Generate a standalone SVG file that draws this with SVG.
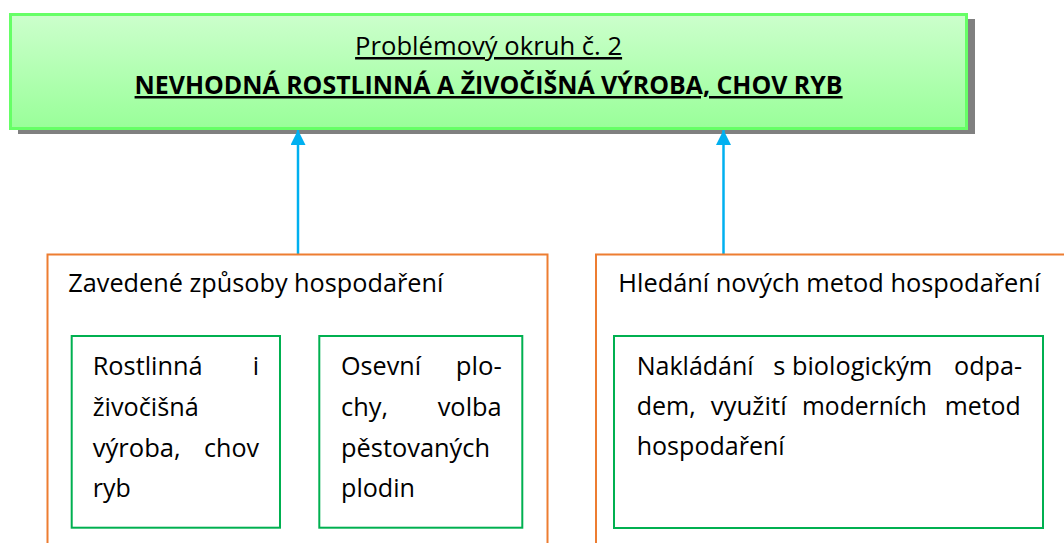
<svg xmlns="http://www.w3.org/2000/svg" width="1064" height="543" viewBox="0 0 1064 543">
<style>
.t{font-family:"Open Sans","Liberation Sans",sans-serif;font-size:25px;fill:#000}
.u{text-decoration:underline}
.b{font-weight:bold}
.orange{fill:#fff;stroke:#ed7d31;stroke-width:2}
.green{fill:#fff;stroke:#00b050;stroke-width:2}
.conn{stroke:#00b0f0;stroke-width:2.5;fill:none}
</style>
<defs>
<linearGradient id="gg" x1="0" y1="0" x2="0" y2="1">
<stop offset="0" stop-color="#ccffcc"/>
<stop offset="1" stop-color="#99ff99"/>
</linearGradient>
<marker id="ah" viewBox="0 0 10 10" refX="10" refY="5" markerWidth="6" markerHeight="6" markerUnits="strokeWidth" orient="auto">
<path d="M0,0 L10,5 L0,10 z" fill="#00b0f0"/>
</marker>
</defs>
<g id="top">
<rect x="18" y="19" width="957" height="115" fill="#808080"/>
<rect x="10.5" y="14.5" width="956" height="114" fill="url(#gg)" stroke="#66ff66" stroke-width="3"/>
<text class="t u" x="488.6" y="55" text-anchor="middle" textLength="267" lengthAdjust="spacingAndGlyphs">Problémový okruh č. 2</text>
<text class="t u b" x="488.6" y="94" text-anchor="middle" textLength="708" lengthAdjust="spacingAndGlyphs">NEVHODNÁ ROSTLINNÁ A ŽIVOČIŠNÁ VÝROBA, CHOV RYB</text>
</g>
<g id="connectors">
<line class="conn" x1="298" y1="255" x2="298" y2="130" marker-end="url(#ah)"/>
<line class="conn" x1="723.5" y1="255" x2="723.5" y2="130" marker-end="url(#ah)"/>
</g>
<g id="left">
<rect class="orange" x="47.5" y="254.5" width="500" height="300"/>
<text class="t" x="68.3" y="292" textLength="375" lengthAdjust="spacingAndGlyphs">Zavedené způsoby hospodaření</text>
</g>
<g id="left-a">
<rect class="green" x="71.7" y="336" width="208.3" height="191.7"/>
<text class="t" x="92.7" y="375" textLength="110" lengthAdjust="spacingAndGlyphs">Rostlinná</text>
<text class="t" x="259" y="375" text-anchor="end">i</text>
<text class="t" x="92.7" y="416" textLength="106" lengthAdjust="spacingAndGlyphs">živočišná</text>
<text class="t" x="92.7" y="456.5" textLength="88" lengthAdjust="spacingAndGlyphs">výroba,</text>
<text class="t" x="259" y="456.5" text-anchor="end" textLength="55" lengthAdjust="spacingAndGlyphs">chov</text>
<text class="t" x="92.7" y="497" textLength="38" lengthAdjust="spacingAndGlyphs">ryb</text>
</g>
<g id="left-b">
<rect class="green" x="319.3" y="336" width="203" height="191.7"/>
<text class="t" x="341" y="375" textLength="80" lengthAdjust="spacingAndGlyphs">Osevní</text>
<text class="t" x="501.7" y="375" text-anchor="end" textLength="46" lengthAdjust="spacingAndGlyphs">plo-</text>
<text class="t" x="341" y="416" textLength="47" lengthAdjust="spacingAndGlyphs">chy,</text>
<text class="t" x="501.7" y="416" text-anchor="end" textLength="64" lengthAdjust="spacingAndGlyphs">volba</text>
<text class="t" x="341" y="456.5" textLength="149" lengthAdjust="spacingAndGlyphs">pěstovaných</text>
<text class="t" x="341" y="497" textLength="74" lengthAdjust="spacingAndGlyphs">plodin</text>
</g>
<g id="right">
<rect class="orange" x="596" y="254.5" width="500" height="300"/>
<text class="t" x="618.3" y="292" textLength="422" lengthAdjust="spacingAndGlyphs">Hledání nových metod hospodaření</text>
</g>
<g id="right-a">
<rect class="green" x="614" y="336" width="429" height="192"/>
<text class="t" x="636.7" y="375" textLength="117" lengthAdjust="spacingAndGlyphs">Nakládání</text>
<text class="t" x="773.3" y="375" textLength="159" lengthAdjust="spacingAndGlyphs">s biologickým</text>
<text class="t" x="1022" y="375" text-anchor="end" textLength="68" lengthAdjust="spacingAndGlyphs">odpa-</text>
<text class="t" x="636.7" y="415" textLength="59" lengthAdjust="spacingAndGlyphs">dem,</text>
<text class="t" x="710.7" y="415" textLength="76" lengthAdjust="spacingAndGlyphs">využití</text>
<text class="t" x="802" y="415" textLength="125" lengthAdjust="spacingAndGlyphs">moderních</text>
<text class="t" x="1020.7" y="415" text-anchor="end" textLength="76" lengthAdjust="spacingAndGlyphs">metod</text>
<text class="t" x="636.7" y="455" textLength="148" lengthAdjust="spacingAndGlyphs">hospodaření</text>
</g>
</svg>
